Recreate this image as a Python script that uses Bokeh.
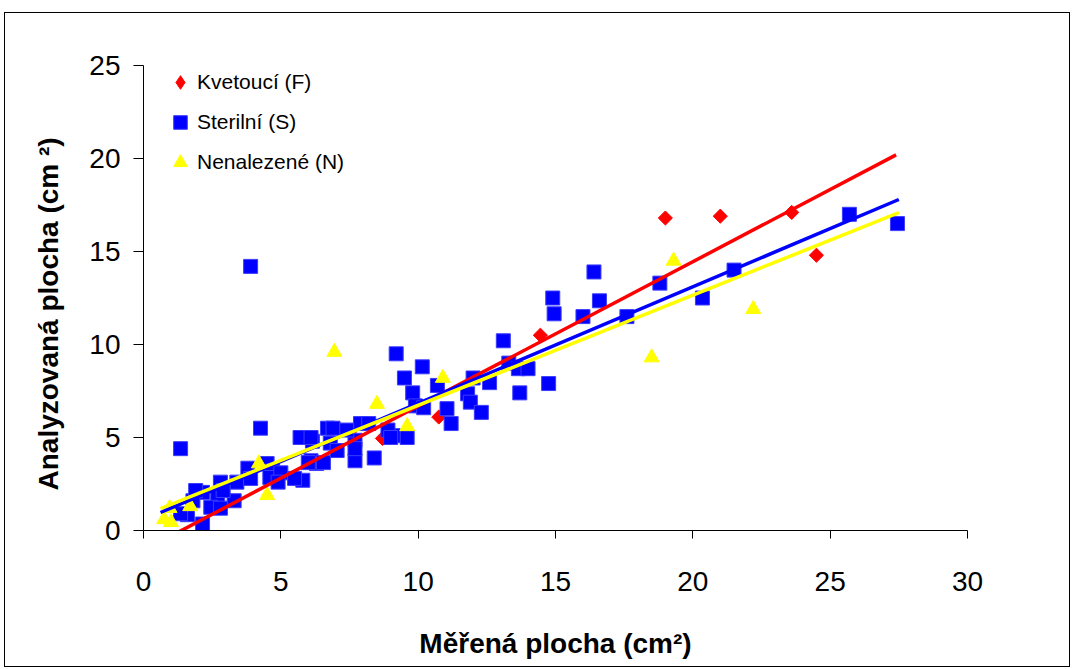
import numpy as np
from bokeh.plotting import figure
from bokeh.models import Range1d, FixedTicker, Legend, LegendItem, Title
from bokeh.embed import file_html
from bokeh.resources import INLINE

# ---- data ----
f_x = [7.5, 8.7, 10.75, 14.45, 19.0, 21.0, 23.6, 24.5]
f_y = [5.3, 4.95, 6.1, 10.5, 16.8, 16.9, 17.1, 14.8]

s_x = [1.35, 3.9, 4.26, 2.15, 2.15, 1.8, 1.6, 1.35, 2.8, 2.7, 3.3, 3.4, 3.8, 3.9,
       4.5, 4.7, 4.6, 2.45, 2.9, 1.9, 2.8, 5.0, 4.9, 5.8, 5.5, 5.8, 6.15, 6.1, 6.3,
       6.7, 5.7, 6.1, 6.9, 6.8, 7.05, 6.0, 6.55, 7.7, 7.7, 7.9, 8.4, 9.1, 9.6, 7.4,
       8.2, 7.7, 8.9, 9.0, 9.2, 10.15, 9.5, 9.8, 9.9, 10.2, 10.7, 11.05, 11.2, 11.8,
       12.0, 14.9, 14.95, 13.1, 13.3, 13.65, 14.0, 13.7, 14.75, 12.6, 11.9, 12.3,
       16.4, 16.6, 16.0, 17.6, 18.8, 20.35, 21.5, 25.7, 27.45]
s_y = [4.4, 14.2, 5.5, 0.35, 2.05, 1.6, 0.85, 0.9, 2.6, 1.8, 1.6, 2.6, 3.35, 2.8,
       3.6, 3.2, 2.85, 1.25, 2.15, 2.15, 1.2, 3.1, 2.6, 2.7, 2.8, 5.0, 4.8, 3.75, 3.6,
       5.5, 5.0, 5.0, 5.5, 4.7, 4.3, 3.65, 3.65, 3.75, 4.85, 5.75, 3.9, 5.1, 5.0, 5.4,
       5.75, 4.4, 5.4, 5.0, 9.5, 8.8, 8.2, 7.4, 6.7, 6.6, 7.8, 6.55, 5.75, 7.35,
       8.2, 12.5, 11.65, 10.2, 9.0, 8.7, 8.7, 7.4, 7.9, 7.95, 6.9, 6.35,
       13.9, 12.35, 11.5, 11.5, 13.3, 12.5, 14.0, 17.0, 16.5]

n_x = [0.75, 1.0, 0.95, 1.7, 4.2, 4.5, 6.95, 8.5, 9.6, 10.9, 18.5, 19.3, 22.2]
n_y = [0.6, 0.45, 1.2, 1.3, 3.6, 1.9, 9.6, 6.8, 5.6, 8.2, 9.3, 14.5, 11.9]

# linear trend lines: slope, intercept, x range
trend_names = ["F", "S", "N"]
trend_slope = [0.776, 0.626, 0.592]
trend_intercept = [-1.07, 0.58, 0.81]
trend_x0 = [0.62, 0.62, 0.62]
trend_x1 = [27.4, 27.5, 27.5]

legend_labels = ["Kvetoucí (F)", "Sterilní (S)", "Nenalezené (N)"]
x_title = "Měřená plocha (cm²)"
y_title = "Analyzovaná plocha (cm ²)"
x_ticks = [0, 5, 10, 15, 20, 25, 30]
y_ticks = [0, 5, 10, 15, 20, 25]

RED, BLUE, YELLOW = "#FF0000", "#0000FF", "#FFFF00"
FONT = "Liberation Sans"

p = figure(width=1066, height=655, output_backend="svg", toolbar_location=None,
           x_range=Range1d(0, 30), y_range=Range1d(0, 25),
           min_border_left=138, min_border_right=104,
           min_border_top=52, min_border_bottom=138,
           margin=(12, 0, 0, 4))
p.styles = {"border": "1px solid #000000"}
p.background_fill_color = "white"
p.border_fill_color = "white"
p.outline_line_color = None
p.grid.visible = False
# range far outside the view: the legend-only diamond renderer is never visible in the plot
p.extra_y_ranges = {"legend_only": Range1d(-1000, -975)}

r_f = p.scatter(f_x, f_y, marker="square", size=10, angle=np.pi / 4,
                fill_color=RED, line_color=RED, line_width=1)
r_s = p.scatter(s_x, s_y, marker="square", size=14,
                fill_color=BLUE, line_color="#3c3cff", line_width=1)
r_n = p.scatter(n_x, n_y, marker="triangle", size=15,
                fill_color=YELLOW, line_color=YELLOW, line_width=1)
# legend glyph for F (legend glyphs ignore the marker angle, so use a diamond marker)
r_f_leg = p.scatter(f_x, f_y, marker="diamond", size=14, y_range_name="legend_only",
                    fill_color=RED, line_color=RED, line_width=1)

for col, m, b, x0, x1 in zip([RED, BLUE, YELLOW], trend_slope, trend_intercept, trend_x0, trend_x1):
    xs = np.array([x0, x1])
    p.line(xs, m * xs + b, line_color=col, line_width=3.5)

for ax, ticks in ((p.xaxis[0], x_ticks), (p.yaxis[0], y_ticks)):
    ax.ticker = FixedTicker(ticks=ticks)
    ax.major_label_text_font = FONT
    ax.major_label_text_font_size = "28px"
    ax.major_label_text_color = "black"
    ax.axis_line_color = "black"
    ax.axis_line_width = 1
    ax.major_tick_line_color = "black"
    ax.major_tick_in = 0
    ax.minor_tick_line_color = None
    ax.axis_label_text_font = FONT
    ax.axis_label_text_font_style = "bold"
    ax.axis_label_text_font_size = "28px"
    ax.axis_label_text_color = "black"

p.xaxis[0].major_tick_out = 8
p.xaxis[0].major_label_standoff = 33
p.xaxis[0].axis_label = x_title
p.xaxis[0].axis_label_standoff = 34

p.yaxis[0].major_tick_out = 10
p.yaxis[0].major_label_standoff = 13

# y title: left-side title starting 40px above the bottom of the frame
ytitle = Title(text=y_title, align="left", offset=40,
               text_font=FONT, text_font_style="bold", text_font_size="28px",
               text_color="black")
if "standoff" in Title.properties():
    ytitle.standoff = 46
p.add_layout(ytitle, "left")

legend = Legend(items=[LegendItem(label=legend_labels[0], renderers=[r_f_leg]),
                       LegendItem(label=legend_labels[1], renderers=[r_s]),
                       LegendItem(label=legend_labels[2], renderers=[r_n])],
                location=(20, 351), glyph_width=34, glyph_height=34,
                spacing=6, padding=0, margin=0, label_standoff=-2,
                label_text_font=FONT, label_text_font_size="21px",
                label_text_color="black",
                border_line_color=None, background_fill_alpha=0)
p.add_layout(legend, "center")

open("out.html", "w").write(file_html(p, INLINE))
